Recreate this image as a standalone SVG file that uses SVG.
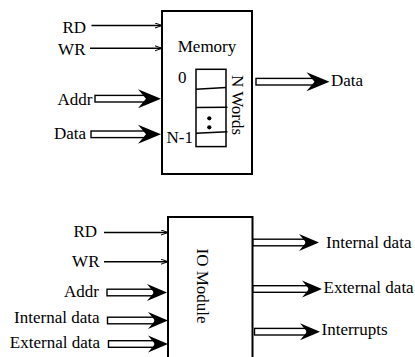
<svg xmlns="http://www.w3.org/2000/svg" xmlns:xlink="http://www.w3.org/1999/xlink" width="415" height="357" viewBox="0 0 415 357">
<style>
text{font-family:"Liberation Serif","Times New Roman",serif;font-size:17px;fill:#000}
.e{text-anchor:end}
.m{text-anchor:middle}
.box{fill:#fff;stroke:#000;stroke-width:2}
.cell{fill:none;stroke:#000;stroke-width:1.5}
.thin{fill:none;stroke:#000;stroke-width:1.5;marker-end:url(#sm)}
.shaft{fill:#fff;stroke:#000;stroke-width:1.4}
.hd{fill:#000}
</style>
<defs>
<marker id="sm" markerUnits="userSpaceOnUse" markerWidth="10" markerHeight="8" refX="7" refY="3" orient="auto">
<path d="M0,0.5 L7,3 L0,5.5" fill="none" stroke="#000" stroke-width="1"/>
</marker>
<path id="h1" class="hd" d="M0,0 L-23,-9.5 L-15,0 L-23,9.5 Z"/>
<path id="h2" class="hd" d="M0,0 L-20,-8.5 L-13,0 L-20,8.5 Z"/>
</defs>

<g id="memory">
<rect class="box" x="162" y="11" width="90" height="163"/>
<text class="m" x="207" y="51.5">Memory</text>
<rect class="cell" x="196" y="69.3" width="30" height="77.3"/>
<line class="cell" x1="196" y1="89.3" x2="226" y2="87.5"/>
<line class="cell" x1="196" y1="107.5" x2="227.5" y2="107.3"/>
<line class="cell" x1="196" y1="133.3" x2="227.5" y2="131.8"/>
<circle cx="209.3" cy="118.3" r="2.1"/>
<circle cx="209.3" cy="127.3" r="2.1"/>
<text x="178" y="83.3">0</text>
<text x="166.5" y="143.3">N-1</text>
<text class="m" transform="translate(231.5,105) rotate(90)">N Words</text>
</g>

<g id="io-module">
<rect class="box" x="168" y="217" width="84.5" height="150"/>
<text class="m" transform="translate(197,286) rotate(90)">IO Module</text>
</g>

<g id="labels">
<text class="e" x="86" y="32.7">RD</text>
<text class="e" x="85.5" y="55">WR</text>
<text class="e" x="92.5" y="105">Addr</text>
<text class="e" x="86" y="138.5">Data</text>
<text x="331" y="85.5">Data</text>
<text class="e" x="97" y="236.7">RD</text>
<text class="e" x="99.5" y="267.3">WR</text>
<text class="e" x="99" y="296.7">Addr</text>
<text class="e" x="99.5" y="322.5">Internal data</text>
<text class="e" x="100" y="348">External data</text>
<text x="326" y="248.3">Internal data</text>
<text x="323.5" y="292.7">External data</text>
<text x="321.5" y="335">Interrupts</text>
</g>

<g id="connectors">
<line class="thin" x1="91.5" y1="25.5" x2="162" y2="25.5"/>
<line class="thin" x1="90" y1="48.3" x2="162" y2="48.3"/>
<rect class="shaft" x="95" y="95.4" width="53" height="6.6"/>
<use xlink:href="#h1" x="161" y="98.7"/>
<rect class="shaft" x="91" y="131" width="57" height="6.6"/>
<use xlink:href="#h1" x="161" y="134.3"/>
<rect class="shaft" x="256" y="78.4" width="60" height="6.6"/>
<use xlink:href="#h1" x="329.5" y="81.7"/>

<line class="thin" x1="104" y1="232.5" x2="168" y2="232.5"/>
<line class="thin" x1="104" y1="261.7" x2="168" y2="261.7"/>
<rect class="shaft" x="107" y="289.2" width="47" height="6.6"/>
<use xlink:href="#h2" x="167" y="292.5"/>
<rect class="shaft" x="107.5" y="317.2" width="47.5" height="6.6"/>
<use xlink:href="#h2" x="168" y="320.5"/>
<rect class="shaft" x="108.5" y="340.7" width="46.5" height="6.6"/>
<use xlink:href="#h2" x="168" y="344"/>
<rect class="shaft" x="253" y="239.2" width="53" height="6.6"/>
<use xlink:href="#h2" x="319" y="242.5"/>
<rect class="shaft" x="253" y="285.7" width="56" height="6.6"/>
<use xlink:href="#h2" x="322" y="289"/>
<rect class="shaft" x="254.5" y="328.4" width="52.5" height="6.6"/>
<use xlink:href="#h2" x="320" y="331.7"/>
</g>
</svg>
